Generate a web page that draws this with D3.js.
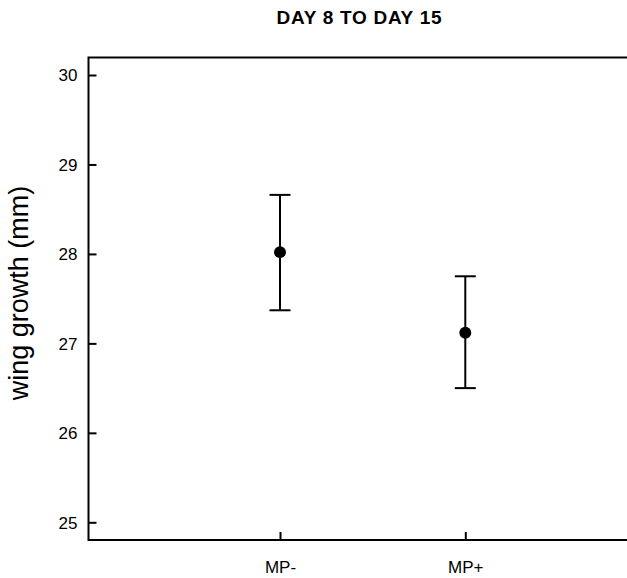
<!DOCTYPE html>
<html><head><meta charset="utf-8">
<script src="https://cdn.jsdelivr.net/npm/d3@7"></script>
<style>body{margin:0;background:#fff}svg{display:block}text{font-family:"Liberation Sans",Arial,sans-serif}</style>
</head><body>
<script>
const categories = ["MP-", "MP+"];
const means = [28.02, 27.12];
const lower = [27.37, 26.50];
const upper = [28.66, 27.75];
const yTicks = [25, 26, 27, 28, 29, 30];
const title = "DAY 8 TO DAY 15";
const yLabel = "wing growth (mm)";

(function () {
const W = 627, H = 578;
const mLeft = 88.5, mRight = 627, mTop = 57.5, mBottom = 540;
const svg = d3.select("body").append("svg").attr("width", W).attr("height", H);

const y = d3.scaleLinear().domain([25, 30]).range([522.3, 75]);
const x = d3.scaleLinear().domain([1, 2]).range([280, 465.3]);

// frame
svg.append("path").attr("d", `M${mRight},${mTop}H${mLeft}V${mBottom}H${mRight}`)
  .attr("fill", "none").attr("stroke", "#000").attr("stroke-width", 2);

// y axis
const yAxis = d3.axisRight(y).tickValues(yTicks).tickSize(8).tickFormat(d3.format("d"));
const gy = svg.append("g").attr("transform", `translate(${mLeft},0)`).call(yAxis);
gy.select(".domain").remove();
gy.selectAll(".tick line").attr("stroke", "#000").attr("stroke-width", 2);
gy.selectAll(".tick text").attr("x", -11).attr("text-anchor", "end")
  .attr("font-size", 17).attr("fill", "#000").attr("dy", "0.35em");

// x axis
const xAxis = d3.axisTop(x).tickValues([1, 2]).tickSize(8).tickFormat((d, i) => categories[i]);
const gx = svg.append("g").attr("transform", `translate(0,${mBottom})`).call(xAxis);
gx.select(".domain").remove();
gx.selectAll(".tick line").attr("stroke", "#000").attr("stroke-width", 2);
gx.selectAll(".tick text").attr("y", 33).attr("dy", 0)
  .attr("font-size", 17).attr("fill", "#000");

// title
svg.append("text").attr("x", 359).attr("y", 24).attr("text-anchor", "middle")
  .attr("font-size", 19).attr("font-weight", "bold")
  .attr("textLength", 165).attr("lengthAdjust", "spacing").text(title);

// y label
svg.append("text").attr("transform", `translate(28,293) rotate(-90)`)
  .attr("text-anchor", "middle").attr("font-size", 27).text(yLabel);

// error bars
const g = svg.append("g");
const idx = d3.range(categories.length);
g.selectAll(".v").data(idx).join("line")
  .attr("x1", i => x(i + 1)).attr("x2", i => x(i + 1))
  .attr("y1", i => y(lower[i])).attr("y2", i => y(upper[i]))
  .attr("stroke", "#000").attr("stroke-width", 2);
[lower, upper].forEach(arr => {
  g.append("g").selectAll("line").data(idx).join("line")
    .attr("x1", i => x(i + 1) - 10.5).attr("x2", i => x(i + 1) + 10.5)
    .attr("y1", i => y(arr[i])).attr("y2", i => y(arr[i]))
    .attr("stroke", "#000").attr("stroke-width", 2);
});
g.selectAll("circle").data(idx).join("circle")
  .attr("cx", i => x(i + 1)).attr("cy", i => y(means[i])).attr("r", 6).attr("fill", "#000");
})();
</script>
</body></html>
